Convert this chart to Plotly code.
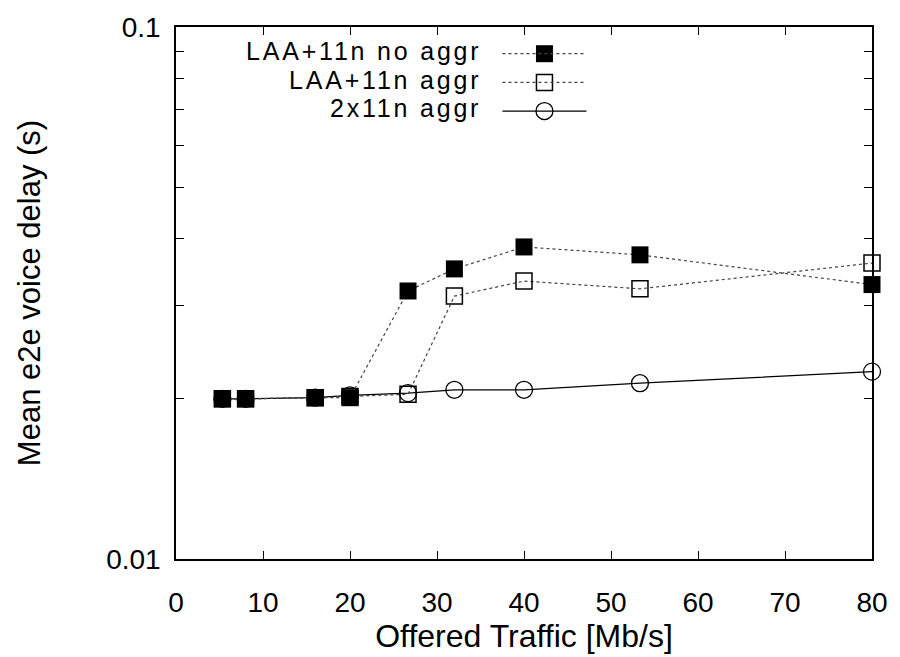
import plotly.graph_objects as go

# Offered traffic (Mb/s)
traffic = [5.33, 8, 16, 20, 26.67, 32, 40, 53.33, 80]

# Mean end-to-end voice delay (s)
laa_no_aggr = [0.0200, 0.0200, 0.0201, 0.0201, 0.0319, 0.0351, 0.0386, 0.0373, 0.0328]
laa_aggr = [0.0200, 0.0200, 0.0201, 0.0202, 0.0204, 0.0312, 0.0333, 0.0322, 0.0360]
wifi_aggr = [0.0200, 0.0200, 0.0201, 0.0203, 0.0205, 0.0208, 0.0208, 0.0214, 0.0225]

series_names = ["LAA+11n no aggr", "LAA+11n aggr", "2x11n aggr"]
x_ticks = [0, 10, 20, 30, 40, 50, 60, 70, 80]
y_ticks = [0.01, 0.02, 0.03, 0.04, 0.05, 0.06, 0.07, 0.08, 0.09, 0.1]
y_ticktext = ["0.01", "", "", "", "", "", "", "", "", "0.1"]

FONT = "Liberation Sans, Arial, Helvetica, sans-serif"
DOT = dict(color="#444444", width=1.2, dash="dot")
SOLID = dict(color="black", width=1.2)

styles = [
    dict(line=DOT, marker=dict(symbol="square", size=17, color="black",
                               line=dict(width=0))),
    dict(line=DOT, marker=dict(symbol="square-open", size=16, color="black",
                               line=dict(width=1.5))),
    dict(line=SOLID, marker=dict(symbol="circle-open", size=17, color="black",
                                 line=dict(width=1.3))),
]

fig = go.Figure()
# draw the solid series first so the squares sit on top
order = [2, 1, 0]
data = [laa_no_aggr, laa_aggr, wifi_aggr]
for i in order:
    fig.add_trace(go.Scatter(
        x=traffic, y=data[i], mode="lines+markers", name=series_names[i],
        line=styles[i]["line"], marker=styles[i]["marker"],
        showlegend=False, cliponaxis=False,
    ))

# Key in the upper-left corner: right-aligned text, sample line and marker
key_rows = [0.9498, 0.8959, 0.842]
text_x, line_x0, line_x1, mark_x = 0.4405, 0.469, 0.5897, 0.5294
for i, yk in enumerate(key_rows):
    fig.add_annotation(xref="paper", yref="paper", x=text_x, y=yk + 0.005,
                       text='<span style="letter-spacing:2.8px">%s</span>' % series_names[i],
                       showarrow=False, xanchor="right", yanchor="middle",
                       font=dict(family=FONT, size=25, color="black"))
    fig.add_shape(type="line", xref="paper", yref="paper",
                  x0=line_x0, x1=line_x1, y0=yk, y1=yk,
                  line=styles[i]["line"])
    fig.add_trace(go.Scatter(x=[mark_x], y=[yk], mode="markers",
                             marker=styles[i]["marker"], xaxis="x2", yaxis="y2",
                             showlegend=False, hoverinfo="skip"))

axis_common = dict(showline=True, linecolor="black", linewidth=1.5,
                   mirror="ticks", ticks="inside", ticklen=8, tickwidth=1,
                   tickcolor="black", showgrid=False, zeroline=False,
                   tickfont=dict(family=FONT, size=28, color="black"))

fig.update_layout(
    width=900, height=657,
    margin=dict(l=176, r=27, t=22, b=97),
    paper_bgcolor="white", plot_bgcolor="white",
    font=dict(family=FONT, color="black"),
    xaxis=dict(range=[0, 80], tickvals=x_ticks, ticklabelstandoff=18,
               title=dict(text="Offered Traffic [Mb/s]",
                          font=dict(family=FONT, size=32), standoff=4),
               **axis_common),
    yaxis=dict(type="log", range=[-2, -1], tickvals=y_ticks,
               ticktext=y_ticktext, ticklabelstandoff=8,
               title=dict(text="Mean e2e voice delay (s)",
                          font=dict(family=FONT, size=31), standoff=56),
               **axis_common),
    xaxis2=dict(range=[0, 1], overlaying="x", visible=False, domain=[0, 1]),
    yaxis2=dict(range=[0, 1], overlaying="y", visible=False),
)

fig.write_html("out.html")
